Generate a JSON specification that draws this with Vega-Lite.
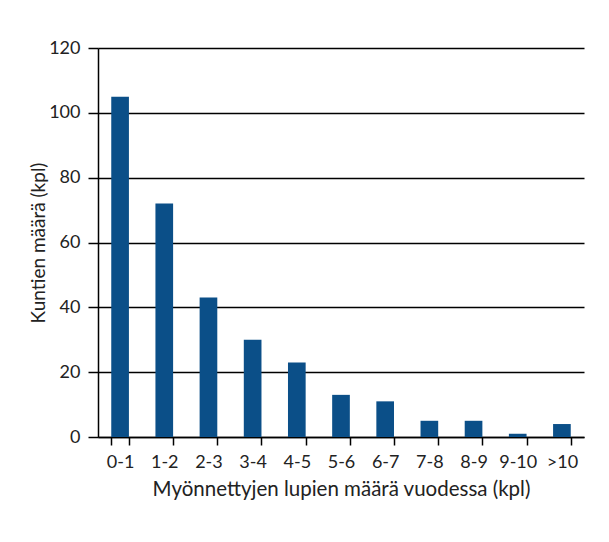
{
  "$schema": "https://vega.github.io/schema/vega-lite/v6.json",
  "width": 486,
  "height": 389,
  "autosize": {"type": "none"},
  "padding": {"left": 98, "top": 48, "right": 25, "bottom": 105},
  "background": "#ffffff",
  "data": {
    "values": [
      {"luvat": "0-1", "kunnat": 105},
      {"luvat": "1-2", "kunnat": 72},
      {"luvat": "2-3", "kunnat": 43},
      {"luvat": "3-4", "kunnat": 30},
      {"luvat": "4-5", "kunnat": 23},
      {"luvat": "5-6", "kunnat": 13},
      {"luvat": "6-7", "kunnat": 11},
      {"luvat": "7-8", "kunnat": 5},
      {"luvat": "8-9", "kunnat": 5},
      {"luvat": "9-10", "kunnat": 1},
      {"luvat": ">10", "kunnat": 4}
    ]
  },
  "mark": {"type": "bar", "color": "#0b4f88"},
  "encoding": {
    "x": {
      "field": "luvat",
      "type": "nominal",
      "sort": null,
      "scale": {"paddingInner": 0.6, "paddingOuter": 0.3},
      "axis": {
        "title": "Myönnettyjen lupien määrä vuodessa (kpl)",
        "labelAngle": 0,
        "tickBand": "extent",
        "domainColor": "#000000",
        "domainWidth": 1.5,
        "tickColor": "#000000",
        "tickWidth": 1.5,
        "tickSize": 8,
        "labelPadding": 8,
        "titlePadding": 8,
        "labelFontSize": 18,
        "titleFontSize": 20.5,
        "titleFontWeight": "normal"
      }
    },
    "y": {
      "field": "kunnat",
      "type": "quantitative",
      "scale": {"domain": [0, 120]},
      "axis": {
        "title": "Kuntien määrä (kpl)",
        "values": [0, 20, 40, 60, 80, 100, 120],
        "grid": true,
        "gridColor": "#000000",
        "gridWidth": 1.5,
        "gridOpacity": 1,
        "domainColor": "#000000",
        "domainWidth": 1.5,
        "tickColor": "#000000",
        "tickWidth": 1.5,
        "tickSize": 10,
        "labelPadding": 8,
        "titlePadding": 0,
        "labelFontSize": 18,
        "titleFontSize": 19,
        "titleFontWeight": "normal"
      }
    }
  },
  "config": {
    "font": "Lato",
    "view": {"stroke": null},
    "axis": {"labelColor": "#222222", "titleColor": "#222222"}
  }
}
